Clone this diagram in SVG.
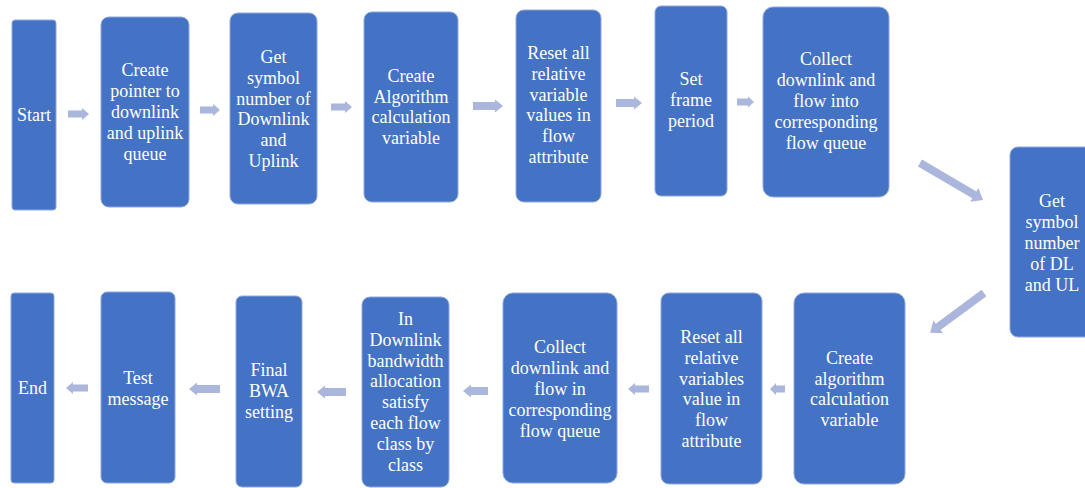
<svg xmlns="http://www.w3.org/2000/svg" width="1085" height="488" viewBox="0 0 1085 488">
<style>
.box{fill:#4472C4;stroke:#8FA8DC;stroke-width:1}
.t{font-family:'Liberation Serif','Times New Roman',serif;font-size:18px;fill:#ffffff;text-anchor:middle}
.arr{fill:#AAB6DC}
</style>
<rect width="1085" height="488" fill="#ffffff"/>
<g id="connectors">
<polygon class="arr" points="0,-3.5 14,-3.5 14,-6 21,0 14,6 14,3.5 0,3.5" transform="translate(68,114)"/>
<polygon class="arr" points="0,-3.5 13,-3.5 13,-6 20,0 13,6 13,3.5 0,3.5" transform="translate(200,110)"/>
<polygon class="arr" points="0,-3.5 14,-3.5 14,-6 21,0 14,6 14,3.5 0,3.5" transform="translate(331,107)"/>
<polygon class="arr" points="0,-4 22,-4 22,-6.5 30,0 22,6.5 22,4 0,4" transform="translate(473,106)"/>
<polygon class="arr" points="0,-4 18,-4 18,-6.5 26,0 18,6.5 18,4 0,4" transform="translate(616,103)"/>
<polygon class="arr" points="0,-3.5 11,-3.5 11,-5.5 17,0 11,5.5 11,3.5 0,3.5" transform="translate(737,102)"/>
<polygon class="arr" points="0,-4 63,-4 63,-8 73,0 63,8 63,4 0,4" transform="translate(920,163) rotate(30.4)"/>
<polygon class="arr" points="0,-4 57,-4 57,-8 67,0 57,8 57,4 0,4" transform="translate(984,293) rotate(143.5)"/>
<polygon class="arr" points="0,-3.5 9,-3.5 9,-6 15,0 9,6 9,3.5 0,3.5" transform="translate(785,389) rotate(180)"/>
<polygon class="arr" points="0,-3.5 14,-3.5 14,-6 21,0 14,6 14,3.5 0,3.5" transform="translate(649,389) rotate(180)"/>
<polygon class="arr" points="0,-4 17,-4 17,-6.5 25,0 17,6.5 17,4 0,4" transform="translate(488,391) rotate(180)"/>
<polygon class="arr" points="0,-4 21,-4 21,-6.5 29,0 21,6.5 21,4 0,4" transform="translate(346,392) rotate(180)"/>
<polygon class="arr" points="0,-4 23,-4 23,-6.5 31,0 23,6.5 23,4 0,4" transform="translate(220,389) rotate(180)"/>
<polygon class="arr" points="0,-3.5 15,-3.5 15,-6 22,0 15,6 15,3.5 0,3.5" transform="translate(88,388) rotate(180)"/>
</g>
<g id="n-start"><rect class="box" x="12" y="20" width="44" height="190" rx="3"/>
<text class="t" x="34" y="121">Start</text></g>
<g id="n-pointer"><rect class="box" x="101" y="17" width="88" height="190" rx="8"/>
<text class="t" y="76.4"><tspan x="145">Create</tspan><tspan x="145" dy="20.8">pointer to</tspan><tspan x="145" dy="20.8">downlink</tspan><tspan x="145" dy="20.8">and uplink</tspan><tspan x="145" dy="20.8">queue</tspan></text></g>
<g id="n-getsym"><rect class="box" x="230" y="13" width="87" height="191" rx="8"/>
<text class="t" y="63"><tspan x="273.5">Get</tspan><tspan x="273.5" dy="20.8">symbol</tspan><tspan x="273.5" dy="20.8">number of</tspan><tspan x="273.5" dy="20.8">Downlink</tspan><tspan x="273.5" dy="20.8">and</tspan><tspan x="273.5" dy="20.8">Uplink</tspan></text></g>
<g id="n-createalg"><rect class="box" x="364" y="12" width="94" height="190" rx="8"/>
<text class="t" y="81.8"><tspan x="411">Create</tspan><tspan x="411" dy="20.8">Algorithm</tspan><tspan x="411" dy="20.8">calculation</tspan><tspan x="411" dy="20.8">variable</tspan></text></g>
<g id="n-reset"><rect class="box" x="516" y="10" width="85" height="192" rx="8"/>
<text class="t" y="59"><tspan x="558.5">Reset all</tspan><tspan x="558.5" dy="20.8">relative</tspan><tspan x="558.5" dy="20.8">variable</tspan><tspan x="558.5" dy="20.8">values in</tspan><tspan x="558.5" dy="20.8">flow</tspan><tspan x="558.5" dy="20.8">attribute</tspan></text></g>
<g id="n-setframe"><rect class="box" x="655" y="6" width="72" height="190" rx="6"/>
<text class="t" y="85.2"><tspan x="691">Set</tspan><tspan x="691" dy="20.8">frame</tspan><tspan x="691" dy="20.8">period</tspan></text></g>
<g id="n-collect"><rect class="box" x="763" y="7" width="126" height="190" rx="10"/>
<text class="t" y="65.4"><tspan x="826">Collect</tspan><tspan x="826" dy="20.8">downlink and</tspan><tspan x="826" dy="20.8">flow into</tspan><tspan x="826" dy="20.8">corresponding</tspan><tspan x="826" dy="20.8">flow queue</tspan></text></g>
<g id="n-getdl"><rect class="box" x="1010" y="147" width="84" height="190" rx="8"/>
<text class="t" y="207.4"><tspan x="1052">Get</tspan><tspan x="1052" dy="20.8">symbol</tspan><tspan x="1052" dy="20.8">number</tspan><tspan x="1052" dy="20.8">of DL</tspan><tspan x="1052" dy="20.8">and UL</tspan></text></g>
<g id="n-createalg2"><rect class="box" x="794" y="293" width="111" height="191" rx="10"/>
<text class="t" y="363.8"><tspan x="849.5">Create</tspan><tspan x="849.5" dy="20.8">algorithm</tspan><tspan x="849.5" dy="20.8">calculation</tspan><tspan x="849.5" dy="20.8">variable</tspan></text></g>
<g id="n-reset2"><rect class="box" x="661" y="293" width="101" height="191" rx="8"/>
<text class="t" y="343"><tspan x="711.5">Reset all</tspan><tspan x="711.5" dy="20.8">relative</tspan><tspan x="711.5" dy="20.8">variables</tspan><tspan x="711.5" dy="20.8">value in</tspan><tspan x="711.5" dy="20.8">flow</tspan><tspan x="711.5" dy="20.8">attribute</tspan></text></g>
<g id="n-collect2"><rect class="box" x="503" y="293" width="114" height="190" rx="10"/>
<text class="t" y="353.4"><tspan x="560">Collect</tspan><tspan x="560" dy="20.8">downlink and</tspan><tspan x="560" dy="20.8">flow in</tspan><tspan x="560" dy="20.8">corresponding</tspan><tspan x="560" dy="20.8">flow queue</tspan></text></g>
<g id="n-indl"><rect class="box" x="362" y="297" width="87" height="190" rx="8"/>
<text class="t" y="324.9"><tspan x="405.5">In</tspan><tspan x="405.5" dy="20.8">Downlink</tspan><tspan x="405.5" dy="20.8">bandwidth</tspan><tspan x="405.5" dy="20.8">allocation</tspan><tspan x="405.5" dy="20.8">satisfy</tspan><tspan x="405.5" dy="20.8">each flow</tspan><tspan x="405.5" dy="20.8">class by</tspan><tspan x="405.5" dy="20.8">class</tspan></text></g>
<g id="n-final"><rect class="box" x="236" y="296" width="66" height="191" rx="6"/>
<text class="t" y="376.2"><tspan x="269">Final</tspan><tspan x="269" dy="20.8">BWA</tspan><tspan x="269" dy="20.8">setting</tspan></text></g>
<g id="n-test"><rect class="box" x="101" y="292" width="74" height="191" rx="6"/>
<text class="t" y="384.1"><tspan x="138">Test</tspan><tspan x="138" dy="20.8">message</tspan></text></g>
<g id="n-end"><rect class="box" x="11" y="293" width="43" height="190" rx="3"/>
<text class="t" x="32.5" y="394">End</text></g>
</svg>
